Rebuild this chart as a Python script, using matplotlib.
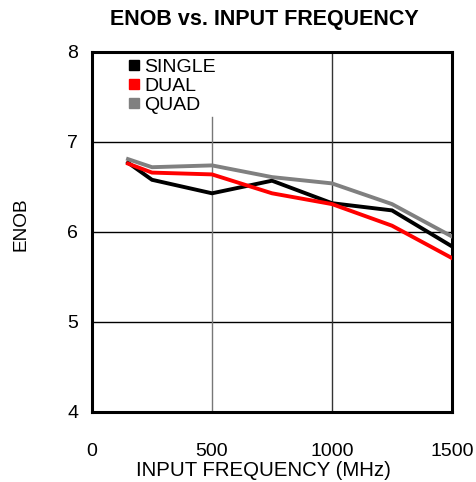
import matplotlib
matplotlib.use("Agg")
import matplotlib.pyplot as plt
from matplotlib.lines import Line2D

plt.rcParams['font.family'] = ['Liberation Sans', 'DejaVu Sans']

# input frequency (MHz)
freq = [150, 250, 500, 750, 1000, 1250, 1500]
# ENOB per configuration
enob_single = [6.77, 6.58, 6.43, 6.57, 6.32, 6.24, 5.84]
enob_dual = [6.76, 6.66, 6.64, 6.43, 6.31, 6.07, 5.71]
enob_quad = [6.81, 6.72, 6.74, 6.61, 6.54, 6.31, 5.95]

names = ["SINGLE", "DUAL", "QUAD"]
colors = ["#000000", "#ff0000", "#808080"]

fig = plt.figure(figsize=(4.77, 4.82), dpi=100)
ax = fig.add_axes([92 / 477, 1 - 412 / 482, 360 / 477, 360 / 482])

# grid
for yv in [5, 6, 7]:
    ax.axhline(yv, color="black", lw=1.0, zorder=1)
ax.axvline(1000, color="#333333", lw=1.0, zorder=1)
ax.axvline(500, ymax=0.82, color="#777777", lw=1.0, zorder=1)

for vals, c in zip([enob_single, enob_dual, enob_quad], colors):
    ax.plot(freq, vals, color=c, lw=2.8, zorder=3, solid_joinstyle="miter")

ax.set_xlim(0, 1500)
ax.set_ylim(4, 8)
ax.set_xticks([0, 500, 1000, 1500])
ax.set_yticks([4, 5, 6, 7, 8])
ax.tick_params(axis="both", length=0, labelsize=14)
ax.tick_params(axis="x", pad=22)
ax.tick_params(axis="y", pad=10)
for s in ax.spines.values():
    s.set_linewidth(2.2)

handles = [Line2D([], [], marker="s", ls="none", color=c, markersize=7.5) for c in colors]
ax.legend(handles, names, loc="upper left", bbox_to_anchor=(0.1, 0.983),
          frameon=False, fontsize=14, handlelength=0.6, handletextpad=0.25,
          labelspacing=0.08, borderpad=0.0, borderaxespad=0.0)

fig.text(264 / 477, 1 - 19 / 482, "ENOB vs. INPUT FREQUENCY", ha="center", va="center",
         fontsize=15.5, fontweight="bold")
fig.text(263.5 / 477, 1 - 470 / 482, "INPUT FREQUENCY (MHz)", ha="center", va="center", fontsize=14.7)
fig.text(21.5 / 477, 1 - 224.5 / 482, "ENOB", ha="center", va="center", rotation=90, fontsize=13.7)

fig.savefig("out.png", dpi=100)
